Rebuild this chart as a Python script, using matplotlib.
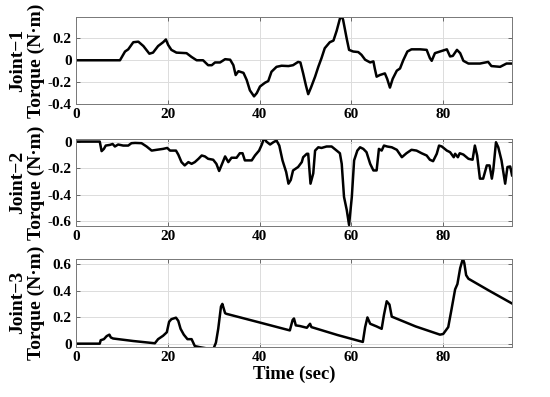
import matplotlib
matplotlib.use("Agg")
import matplotlib.pyplot as plt

# --- data (time in sec, torque in N·m) ---
t1 = [0, 9.2, 9.6, 10.7, 11.4, 12.5, 13.6, 14.7, 16.0, 16.8, 17.9, 19.0, 19.6, 20.1, 20.8,
      21.9, 24.1, 25.2, 26.3, 27.7, 28.8, 29.6, 30.3, 31.4, 32.5, 33.6, 34.3, 34.8, 35.4,
      36.5, 37.2, 37.9, 38.8, 39.4, 40.1, 41.2, 41.9, 42.6, 43.7, 44.8, 46.3, 47.3, 48.4,
      48.9, 49.5, 50.1, 50.6, 51.2, 52.1, 52.8, 53.5, 54.2, 55.3, 56.1, 56.8, 57.5, 57.9,
      58.2, 59.0, 59.5, 60.4, 61.5, 62.2, 63.0, 64.1, 64.8, 65.1, 65.5, 66.2, 67.3, 67.8,
      68.4, 69.0, 69.9, 70.6, 71.3, 72.2, 73.1, 75.0, 76.4, 77.1, 77.5, 78.2, 79.3, 80.8,
      81.5, 82.1, 83.0, 83.7, 84.4, 85.5, 88.0, 89.8, 90.5, 92.4, 93.1, 93.8, 95.0]
tau1 = [0, 0, 0, 0.08, 0.10, 0.165, 0.17, 0.13, 0.06, 0.07, 0.13, 0.165, 0.19, 0.14, 0.095,
        0.07, 0.065, 0.03, 0, 0, -0.045, -0.045, -0.02, -0.02, 0.01, 0.005, -0.045, -0.135, -0.10,
        -0.115, -0.18, -0.275, -0.33, -0.30, -0.24, -0.205, -0.19, -0.105, -0.06, -0.05, -0.053, -0.045, -0.015,
        -0.02, -0.12, -0.23, -0.31, -0.25, -0.15, -0.06, 0.02, 0.11, 0.165, 0.18, 0.27, 0.38, 0.405,
        0.37, 0.195, 0.095, 0.08, 0.075, 0.05, 0.005, -0.02, -0.01, -0.075, -0.15, -0.135, -0.12, -0.17,
        -0.25, -0.17, -0.095, -0.075, 0, 0.08, 0.10, 0.10, 0.095, 0.02, -0.005, 0.065, 0.08, 0.10,
        0.035, 0.04, 0.095, 0.065, -0.005, -0.03, -0.03, -0.015, -0.053, -0.06, -0.045, -0.03, -0.03]

t2 = [0, 5.2, 5.6, 6.1, 6.5, 7.4, 8.0, 8.5, 9.2, 10.3, 11.4, 12.1, 12.9, 14.3, 15.4, 16.5,
      17.6, 19.0, 19.9, 20.5, 21.8, 22.3, 23.0, 23.7, 24.5, 25.2, 25.9, 26.7, 27.4, 28.1,
      28.8, 29.9, 30.6, 31.2, 31.7, 32.5, 33.2, 33.9, 35.0, 35.7, 36.3, 36.8, 38.3, 39.0,
      39.9, 40.5, 41.0, 41.5, 42.3, 43.0, 43.7, 44.3, 45.0, 45.8, 46.3, 46.8, 47.3, 48.4,
      49.2, 49.5, 50.3, 50.6, 51.1, 51.7, 52.1, 52.8, 53.5, 54.6, 55.7, 56.8, 57.5, 57.9,
      58.4, 59.0, 59.5, 60.1, 60.6, 61.3, 61.9, 62.6, 63.3, 64.1, 64.8, 65.5, 66.0, 66.6,
      67.1, 67.8, 68.8, 69.9, 71.0, 72.0, 73.1, 74.2, 75.3, 76.4, 77.1, 77.8, 78.6, 79.1,
      79.7, 80.8, 81.5, 82.3, 82.6, 83.2, 83.6, 84.4, 85.5, 86.4, 86.9, 87.4, 88.0, 88.7,
      89.5, 90.1, 90.6, 90.9, 91.5, 92.0, 92.7, 93.5, 94.0, 94.6, 95.0]
tau2 = [0, 0, -0.072, -0.055, -0.03, -0.025, -0.018, -0.037, -0.022, -0.03, -0.03, -0.012, -0.01, -0.012, -0.037, -0.068,
        -0.062, -0.055, -0.048, -0.068, -0.068, -0.098, -0.155, -0.18, -0.155, -0.168, -0.155, -0.13, -0.105, -0.112,
        -0.13, -0.137, -0.168, -0.222, -0.18, -0.112, -0.155, -0.122, -0.122, -0.088, -0.088, -0.142, -0.142, -0.105,
        -0.068, -0.022, 0.028, 0, -0.022, -0.005, 0.008, -0.03, -0.142, -0.23, -0.318, -0.29, -0.218, -0.192,
        -0.155, -0.118, -0.092, -0.092, -0.318, -0.24, -0.068, -0.043, -0.048, -0.037, -0.037, -0.068, -0.088, -0.168,
        -0.418, -0.518, -0.63, -0.418, -0.142, -0.068, -0.043, -0.055, -0.08, -0.168, -0.218, -0.218, -0.055, -0.068,
        -0.03, -0.037, -0.043, -0.062, -0.118, -0.088, -0.062, -0.068, -0.088, -0.105, -0.137, -0.148, -0.092, -0.03,
        -0.037, -0.068, -0.08, -0.118, -0.092, -0.118, -0.088, -0.098, -0.13, -0.137, -0.03, -0.105, -0.28, -0.28,
        -0.18, -0.18, -0.28, -0.218, -0.005, -0.043, -0.142, -0.318, -0.192, -0.188, -0.255]

t3 = [0, 5.2, 5.4, 6.1, 6.7, 7.3, 7.6, 8.1, 12.5, 17.2, 17.9, 19.0, 19.8, 20.3, 20.8, 21.8,
      22.3, 22.8, 23.5, 24.3, 25.2, 25.9, 26.9, 29.9, 30.5, 31.0, 31.6, 31.9, 32.5, 32.8,
      40.0, 46.6, 47.2, 47.5, 47.9, 48.8, 50.3, 51.0, 51.3, 57.0, 62.5, 63.0, 63.5, 64.1,
      65.5, 66.6, 67.1, 67.7, 68.3, 68.8, 74.0, 79.3, 80.0, 81.1, 81.8, 82.6, 83.1, 83.7,
      84.3, 84.6, 85.0, 85.5, 90.0, 95.0]
tau3 = [0, 0, 0.026, 0.034, 0.057, 0.068, 0.047, 0.039, 0.02, 0.003, 0.034, 0.06, 0.086, 0.165, 0.185, 0.196,
        0.172, 0.112, 0.068, 0.034, 0.034, -0.018, -0.026, -0.044, 0.008, 0.112, 0.28, 0.30, 0.23, 0.225,
        0.16, 0.10, 0.178, 0.19, 0.138, 0.133, 0.12, 0.15, 0.125, 0.065, 0.013, 0.125, 0.198, 0.15,
        0.13, 0.112, 0.217, 0.32, 0.295, 0.204, 0.13, 0.068, 0.073, 0.125, 0.256, 0.41, 0.45, 0.57,
        0.642, 0.608, 0.517, 0.49, 0.40, 0.303]

ylabels = ["Joint\u22121\nTorque (N\u00b7m)", "Joint\u22122\nTorque (N\u00b7m)", "Joint\u22123\nTorque (N\u00b7m)"]
yticks = [[-0.4, -0.2, 0, 0.2], [-0.6, -0.4, -0.2, 0], [0, 0.2, 0.4, 0.6]]
yticklabels = [["-0.4", "-0.2", "0", "0.2"], ["-0.6", "-0.4", "-0.2", "0"], ["0", "0.2", "0.4", "0.6"]]
ylims = [(-0.4, 0.395), (-0.637, 0.02), (-0.025, 0.64)]
xticks = [0, 20, 40, 60, 80]

plt.rcParams["font.family"] = ["Liberation Serif", "DejaVu Serif"]
plt.rcParams["font.weight"] = "bold"

fig = plt.figure(figsize=(5.5, 3.97), dpi=100)
boxes = [(0.138, 0.738, 0.793, 0.219), (0.138, 0.431, 0.793, 0.219), (0.138, 0.126, 0.793, 0.222)]
series = [(t1, tau1), (t2, tau2), (t3, tau3)]

for i, (box, (t, tau)) in enumerate(zip(boxes, series)):
    ax = fig.add_axes(box)
    ax.plot(t, tau, color="black", lw=1.8, solid_joinstyle="round")
    ax.set_xlim(0, 95)
    ax.set_ylim(*ylims[i])
    ax.set_xticks(xticks)
    ax.set_yticks(yticks[i])
    ax.set_yticklabels(yticklabels[i])
    ax.grid(True, color="#dcdcdc", lw=0.7)
    ax.set_axisbelow(True)
    ax.tick_params(direction="in", length=3, width=0.6, labelsize=11, color="#555555",
                   top=True, right=True, pad=3)
    for lab in ax.get_xticklabels() + ax.get_yticklabels():
        lab.set_fontweight("bold")
    for sp in ax.spines.values():
        sp.set_color("#777777")
        sp.set_linewidth(0.7)
    ax.set_ylabel(ylabels[i], fontsize=14, fontweight="bold", linespacing=1.12)
    ax.yaxis.set_label_coords(-0.07, 0.5)

ax.set_xlabel("Time (sec)", fontsize=13.5, fontweight="bold", labelpad=1)

fig.savefig("out.png", dpi=100)
